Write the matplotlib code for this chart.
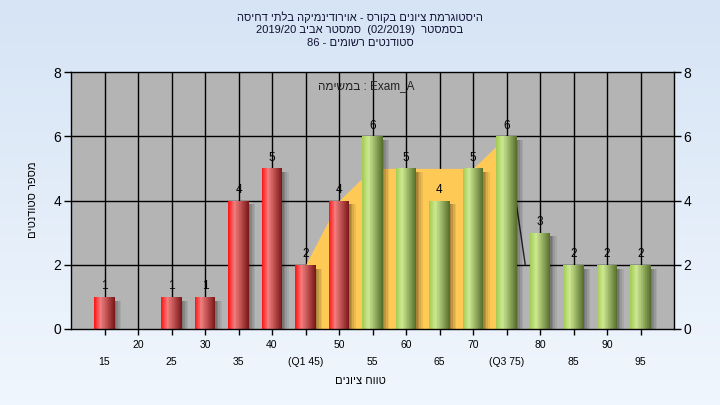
import re
import numpy as np
import matplotlib
matplotlib.use("Agg")
import matplotlib.pyplot as plt

# data
grades = [15, 20, 25, 30, 35, 40, 45, 50, 55, 60, 65, 70, 75, 80, 85, 90, 95]
counts = [1, 0, 1, 1, 4, 5, 2, 4, 6, 5, 4, 5, 6, 3, 2, 2, 2]
pass_grade = 55
q_labels = {45: "(Q1 45)", 75: "(Q3 75)"}
iqr_x = [45, 50, 55, 60, 65, 70, 75]
iqr_y = [2, 4, 5, 5, 5, 5, 6]
line_x = [75, 77.8]
line_y = [6, 2]
y_ticks = [0, 2, 4, 6, 8]

title_lines = ["היסטוגרמת ציונים בקורס - אוירודינמיקה בלתי דחיסה",
               "בסמסטר  (02/2019)  סמסטר אביב 2019/20",
               "סטודנטים רשומים - 86"]
xlabel = "טווח ציונים"
ylabel = "מספר סטודנטים"
task_word = "במשימה"
task_name = "Exam_A"

FONT = ["Liberation Sans", "DejaVu Sans"]
plt.rcParams["font.family"] = FONT


def rtl(s):
    """matplotlib has no bidi: flip hebrew, keep numbers / latin runs"""
    r = s[::-1]
    r = re.sub(r"[0-9A-Za-z/_.]+", lambda m: m.group(0)[::-1], r)
    return r.translate(str.maketrans("()", ")("))


def cylinder(left, high, right, n=30):
    cols = []
    for v in np.linspace(0, 1, n):
        if v < 0.3:
            a = v / 0.3
            c = np.array(left) * (1 - a) + np.array(high) * a
        else:
            a = (v - 0.3) / 0.7
            c = np.array(high) * (1 - a) + np.array(right) * a
        cols.append(c / 255.0)
    return cols


red_grad = cylinder((255, 25, 25), (242, 125, 125), (125, 25, 25))
green_grad = cylinder((165, 205, 85), (205, 232, 145), (88, 112, 45))

fig = plt.figure(figsize=(7.2, 4.05), dpi=100)

# background gradient
bg = fig.add_axes([0, 0, 1, 1], zorder=-10)
top = np.array([214, 228, 245]) / 255.0
bot = np.array([240, 246, 253]) / 255.0
grad = np.linspace(0, 1, 100)[:, None, None] * (bot - top) + top
bg.imshow(grad, aspect="auto", extent=(0, 1, 0, 1))
bg.axis("off")

ax = fig.add_axes([71 / 720, 76 / 405, 603 / 720, 257 / 405])
ax.set_facecolor("#b4b4b4")

# grid by hand so it stays behind everything
for g in grades:
    ax.axvline(g, color="black", lw=1, zorder=1)
for yv in y_ticks[1:-1]:
    ax.axhline(yv, color="black", lw=1, zorder=1)

w = 3.0
for g, c in zip(grades, counts):
    if c == 0:
        continue
    # soft shadow
    for k, a in enumerate([0.35, 0.25, 0.15, 0.07]):
        ax.bar(g + w / 2 + 0.25 * k, c - 0.12, width=0.25, align="edge",
               color="black", alpha=a, lw=0, zorder=3)
    cols = red_grad if g < pass_grade else green_grad
    n = len(cols)
    xs = g - w / 2 + np.arange(n) * w / n
    ax.bar(xs, [c] * n, width=w / n * 1.6, align="edge", color=cols, lw=0,
           antialiased=False, zorder=4)
    ax.text(g, c + 0.14, str(c), ha="center", va="bottom", fontsize=8.5, zorder=6)

ax.fill_between(iqr_x, 0, iqr_y, color="#ffc955", lw=0, zorder=2)
ax.plot(line_x, line_y, color="#222222", lw=1, zorder=2.5)

ax.set_xlim(10, 100)
ax.set_ylim(0, 8)
ax.set_xticks(grades)
ax.set_xticklabels([])
ax.set_yticks(y_ticks)
ax.grid(False)
ax.tick_params(axis="y", labelsize=10, length=5, width=1, right=True, labelright=True, pad=2)
ax.tick_params(axis="x", length=4, width=1)
for s in ax.spines.values():
    s.set_linewidth(1)
    s.set_zorder(7)

for g in grades:
    lab = q_labels.get(g, str(g))
    dy = -16 if g % 10 == 0 else -33
    ax.annotate(lab, xy=(g, 0), xycoords=("data", "axes fraction"),
                xytext=(0, dy), textcoords="offset pixels",
                ha="center", va="center", fontsize=7.5)

ax.text(0.49, 0.945, rtl(task_word) + " : " + task_name, transform=ax.transAxes,
        ha="center", va="center", fontsize=8.5, color="#222222")

for i, line in enumerate(title_lines):
    fig.text(0.5, 1 - (17 + 13 * i) / 405, rtl(line), ha="center", va="center",
             fontsize=8, color="#111133")

fig.text(0.5, 1 - 381 / 405, rtl(xlabel), ha="center", va="center", fontsize=8)
fig.text(33 / 720, 1 - 200 / 405, rtl(ylabel), ha="center", va="center",
         rotation=90, fontsize=8)

fig.savefig("out.png", dpi=100)
